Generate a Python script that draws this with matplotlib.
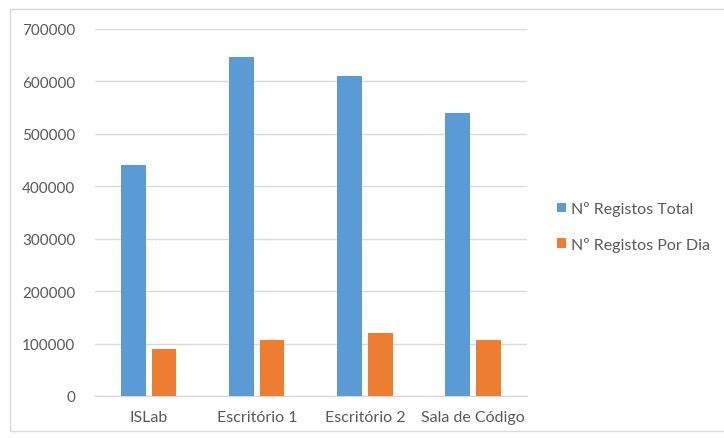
import matplotlib
matplotlib.use("Agg")
import numpy as np
import matplotlib.pyplot as plt
from matplotlib.patches import Rectangle

# data
locais = ["ISLab", "Escritório 1", "Escritório 2", "Sala de Código"]
registos_total = [441000, 647000, 610000, 540000]
registos_dia = [89000, 106000, 121000, 106000]
y_ticks = [0, 100000, 200000, 300000, 400000, 500000, 600000, 700000]

azul = "#5B9BD5"
laranja = "#ED7D31"
cinza_txt = "#595959"
cinza_grid = "#D9D9D9"

plt.rcParams['font.family'] = ['Lato', 'DejaVu Sans']

fig = plt.figure(figsize=(7.24, 4.39), dpi=100)
ax = fig.add_axes([0.131, 0.0957, 0.597, 0.836])

# light frame around the whole chart
fig.patches.append(Rectangle((0.014, 0.016), 1.2, 0.962, transform=fig.transFigure,
                             fill=False, edgecolor="#D9D9D9", linewidth=1))

x = np.arange(len(locais))
w = 0.23
ax.bar(x - 0.14, registos_total, w, color=azul, label="Nº Registos Total", zorder=3)
ax.bar(x + 0.14, registos_dia, w, color=laranja, label="Nº Registos Por Dia", zorder=3)

ax.set_xlim(-0.5, len(locais) - 0.5)
ax.set_ylim(0, 700000)
ax.set_yticks(y_ticks)
ax.set_yticklabels([str(v) for v in y_ticks])
ax.set_xticks(x)
ax.set_xticklabels(locais)

ax.yaxis.grid(True, color=cinza_grid, linewidth=1, zorder=0)
ax.set_axisbelow(True)
for s in ["top", "right", "left"]:
    ax.spines[s].set_visible(False)
ax.spines["bottom"].set_color(cinza_grid)
ax.spines["bottom"].set_linewidth(1)
ax.tick_params(axis="both", length=0, colors=cinza_txt)
ax.tick_params(axis="y", pad=14, labelsize=11)
ax.tick_params(axis="x", pad=10, labelsize=11.5)

leg = ax.legend(loc="center left", bbox_to_anchor=(0.750, 0.482), bbox_transform=fig.transFigure,
                frameon=False, fontsize=11.5, handlelength=0.55, handleheight=0.55,
                handletextpad=0.3, labelspacing=1.3)
for t in leg.get_texts():
    t.set_color(cinza_txt)

plt.savefig("out.png", dpi=100)
